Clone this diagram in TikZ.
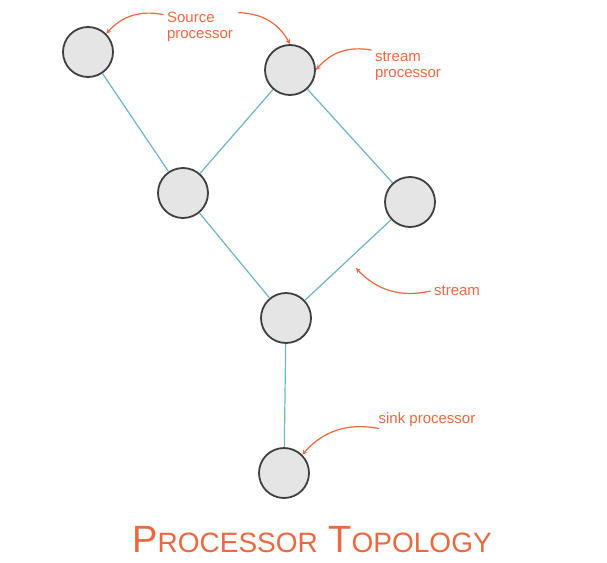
\documentclass[tikz,border=0pt]{standalone}
\usepackage{fontspec}
\setmainfont{Liberation Sans}
\usetikzlibrary{calc,positioning}
\definecolor{edgeblue}{RGB}{110,180,200}
\definecolor{noteorange}{RGB}{235,105,65}
\begin{document}
\begin{tikzpicture}[x=1pt,y=-1pt,
	proc/.style={circle,draw=black!75,line width=1.8pt,fill=black!10,minimum size=50pt,inner sep=0pt},
	link/.style={edgeblue,line width=1.2pt},
	note/.style={noteorange,font=\fontsize{15}{16}\selectfont,align=left},
	pointer/.style={noteorange,line width=1.2pt,->,>=stealth}]
	\useasboundingbox (0,0) rectangle (607,562);

	\node[proc] (src)  at (88,52)   {};
	\node[proc] (strm) at (290,70)  {};
	\node[proc] (left) at (183,193) {};
	\node[proc] (right) at (410,202) {};
	\node[proc] (join) at (286,318) {};
	\node[proc] (sink) at (284,473) {};

	\draw[link] (src) -- (left);
	\draw[link] (strm) -- (left);
	\draw[link] (strm) -- (right);
	\draw[link] (left) -- (join);
	\draw[link] (right) -- (join);
	\draw[link] (join) -- (sink);

	\node[note] (srcnote)  at (200,27)  {Source\\processor};
	\node[note] (strmnote) at (408,66)  {stream\\processor};
	\node[note] (edgenote) at (457,291) {stream};
	\node[note] (sinknote) at (427,420) {sink processor};

	\draw[pointer] (srcnote.north west) ++(0,6) to[bend right=30] (src.north east);
	\draw[pointer] (srcnote.north east) ++(2,4) to[bend left=30] (strm.north);
	\draw[pointer] (strmnote.north west) ++(0,2) to[bend right=30] (strm.east);
	\draw[pointer] (edgenote.west) to[bend left=30] ($(right)!0.5!(join)+(8,8)$);
	\draw[pointer] (sinknote.south west) ++(4,-2) to[bend right=30] (sink.north east);

	\node[noteorange,font=\fontsize{38}{40}\selectfont] (title) at (312,540) {P{\fontsize{28}{30}\selectfont ROCESSOR} T{\fontsize{28}{30}\selectfont OPOLOGY}};
\end{tikzpicture}
\end{document}
